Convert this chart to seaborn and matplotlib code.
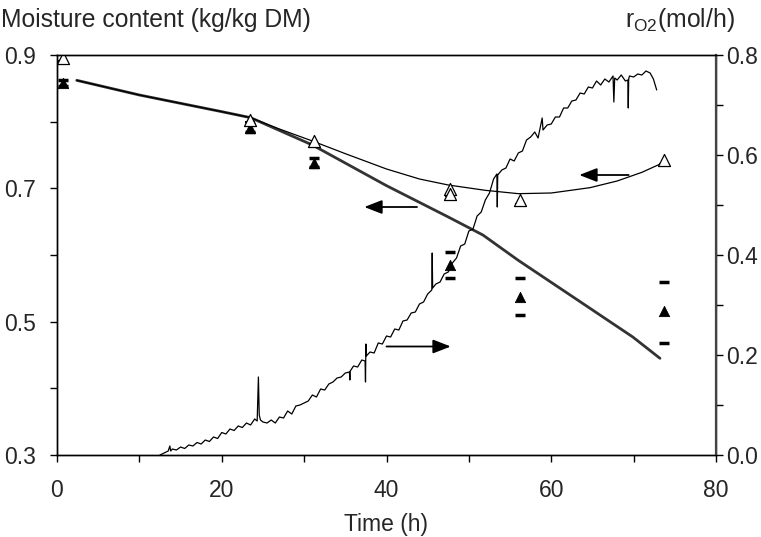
import numpy as np
import pandas as pd
import matplotlib
matplotlib.use("Agg")
import matplotlib.pyplot as plt
import seaborn as sns

# ---- data ----
# measured moisture (filled triangles) with error bar ends
meas_time = [0.7, 23.4, 31.2, 47.7, 56.2, 73.7]
meas_moist = [0.858, 0.790, 0.738, 0.585, 0.537, 0.516]
meas_upper = [0.862, 0.797, 0.745, 0.605, 0.565, 0.560]
meas_lower = [0.854, 0.784, 0.732, 0.565, 0.510, 0.468]

# second measured set (open triangles)
open_time = [0.7, 23.4, 31.2, 47.7, 47.7, 56.2, 73.7]
open_moist = [0.895, 0.803, 0.771, 0.699, 0.692, 0.683, 0.742]
open_lower = [0.891, 0.799, 0.767, 0.688, 0.688, 0.677, 0.737]

# model 1 (thick line)
m1_time = [2.4, 10.0, 20.0, 23.5, 31.0, 40.0, 47.5, 51.7, 56.0, 63.5, 69.9, 73.2]
m1_moist = [0.862, 0.840, 0.815, 0.806, 0.765, 0.704, 0.657, 0.630, 0.592, 0.530, 0.477, 0.445]

# model 2 (thin line)
m2_time = [2.4, 10.0, 20.0, 23.5, 27.0, 31.0, 35.0, 40.0, 44.0, 47.5, 52.0, 56.0, 60.0, 64.7, 68.0, 71.0, 73.5]
m2_moist = [0.862, 0.840, 0.815, 0.806, 0.789, 0.771, 0.752, 0.729, 0.714, 0.705, 0.697, 0.692, 0.693, 0.701, 0.711, 0.724, 0.738]

# oxygen uptake rate (noisy line, right axis)
r_time = [12.5, 13.0, 13.5, 13.7, 13.8, 14.0, 14.5, 15.0, 15.5, 16.0, 16.5, 17.0, 17.5, 18.0, 18.5,
          19.0, 19.5, 20.0, 20.5, 21.0, 21.5, 22.0, 22.5, 23.0, 23.5, 24.0, 24.3, 24.45, 24.55, 24.7,
          25.0, 25.5, 26.0, 26.5, 27.0, 27.5, 28.0, 28.5, 29.0, 29.5, 30.0, 30.5, 31.0, 31.5, 32.0,
          32.5, 33.0, 33.5, 34.0, 34.5, 35.0, 35.5, 35.55, 35.6, 36.0, 36.5, 37.0, 37.4, 37.45, 37.5,
          37.55, 38.0, 38.5, 39.0, 39.5, 40.0, 40.5, 41.0, 41.5, 42.0, 42.5, 43.0, 43.5, 44.0, 44.5,
          45.0, 45.5, 45.55, 45.6, 46.0, 46.5, 47.0, 47.5, 48.0, 48.5, 49.0, 49.5, 50.0, 50.5, 51.0,
          51.5, 52.0, 52.5, 53.0, 53.4, 53.45, 53.5, 54.0, 54.5, 55.0, 55.5, 56.0, 56.5, 57.0, 57.5,
          58.0, 58.4, 58.9, 59.0, 59.5, 60.0, 60.5, 61.0, 61.5, 62.0, 62.5, 63.0, 63.5, 64.0, 64.5,
          65.0, 65.5, 66.0, 66.5, 67.0, 67.5, 67.6, 67.7, 68.0, 68.5, 69.0, 69.3, 69.35, 69.4, 69.5,
          70.0, 70.5, 71.0, 71.5, 72.0, 72.4, 72.8]
r_o2 = [0.000, 0.004, 0.008, 0.018, 0.008, 0.012, 0.010, 0.016, 0.013, 0.020, 0.018, 0.025, 0.022, 0.030, 0.027,
        0.036, 0.033, 0.045, 0.042, 0.052, 0.049, 0.058, 0.055, 0.064, 0.060, 0.072, 0.068, 0.156, 0.080, 0.070,
        0.066, 0.064, 0.070, 0.064, 0.076, 0.074, 0.088, 0.082, 0.098, 0.100, 0.104, 0.108, 0.120, 0.116, 0.132,
        0.130, 0.142, 0.146, 0.154, 0.156, 0.164, 0.166, 0.150, 0.168, 0.178, 0.176, 0.190, 0.188, 0.146, 0.222,
        0.198, 0.206, 0.204, 0.224, 0.222, 0.238, 0.236, 0.252, 0.250, 0.268, 0.270, 0.284, 0.286, 0.302, 0.306,
        0.322, 0.330, 0.404, 0.334, 0.342, 0.346, 0.362, 0.366, 0.384, 0.394, 0.418, 0.422, 0.448, 0.452, 0.478,
        0.486, 0.510, 0.524, 0.552, 0.562, 0.496, 0.560, 0.570, 0.574, 0.592, 0.588, 0.604, 0.608, 0.630, 0.636,
        0.646, 0.634, 0.674, 0.650, 0.660, 0.662, 0.676, 0.676, 0.694, 0.694, 0.708, 0.710, 0.724, 0.722, 0.736,
        0.734, 0.748, 0.740, 0.752, 0.746, 0.758, 0.706, 0.754, 0.750, 0.760, 0.748, 0.750, 0.694, 0.752, 0.758,
        0.756, 0.762, 0.760, 0.768, 0.764, 0.752, 0.730]

x_ticks = [0, 20, 40, 60, 80]
y1_ticks = [0.3, 0.5, 0.7, 0.9]
y2_ticks = [0.0, 0.2, 0.4, 0.6, 0.8]

# ---- plot ----
sns.set_theme(style="ticks")
plt.rcParams['font.family'] = ['Liberation Sans', 'DejaVu Sans']
plt.rcParams['mathtext.fontset'] = 'custom'
plt.rcParams['mathtext.rm'] = 'Liberation Sans'

FS = 16.5
FS_HEAD = 17.8

fig = plt.figure(figsize=(7.61, 5.37), dpi=100)
ax = fig.add_axes([57 / 761, 82 / 537, 659 / 761, 400 / 537])
ax2 = ax.twinx()

df_m1 = pd.DataFrame({"t": m1_time, "m": m1_moist})
df_m2 = pd.DataFrame({"t": m2_time, "m": m2_moist})
df_r = pd.DataFrame({"t": r_time, "r": r_o2})

sns.lineplot(data=df_m1, x="t", y="m", ax=ax, color="#333333", linewidth=2.0, sort=False)
sns.lineplot(data=df_m2, x="t", y="m", ax=ax, color="black", linewidth=0.9, sort=False)
sns.lineplot(data=df_r, x="t", y="r", ax=ax2, color="black", linewidth=0.9, sort=False, estimator=None)

# error-bar ends as dashes
ax.scatter(meas_time + meas_time, meas_upper + meas_lower, marker="_", s=60, color="black", linewidths=2.5, zorder=5)
ax.scatter(open_time, open_lower, marker="_", s=50, color="black", linewidths=1.5, zorder=5)
sns.scatterplot(x=meas_time, y=meas_moist, ax=ax, marker="^", s=55, color="black", edgecolor="black", zorder=6)
sns.scatterplot(x=open_time, y=open_moist, ax=ax, marker="^", s=75, color="white", edgecolor="black", linewidth=0.9, zorder=7)

# arrows
arrow_kw = dict(arrowstyle="-|>,head_length=0.9,head_width=0.35", color="black", lw=1.3, shrinkA=0, shrinkB=0)
ax.annotate("", xy=(63.4, 0.720), xytext=(69.4, 0.720), arrowprops=arrow_kw)
ax.annotate("", xy=(37.3, 0.672), xytext=(43.7, 0.672), arrowprops=arrow_kw)
ax2.annotate("", xy=(47.8, 0.217), xytext=(40.0, 0.217), arrowprops=arrow_kw)

ax.set_xlim(0, 80)
ax.set_ylim(0.3, 0.9)
ax2.set_ylim(0.0, 0.8)
ax.set_xticks(x_ticks)
ax.set_xticks([10, 30, 50, 70], minor=True)
ax.set_yticks(y1_ticks)
ax.set_yticklabels([f"{v:.1f}" for v in y1_ticks])
ax.set_yticks([0.4, 0.6, 0.8], minor=True)
ax2.set_yticks(y2_ticks)
ax2.set_yticklabels([f"{v:.1f}" for v in y2_ticks])
ax2.set_yticks([0.1, 0.3, 0.5, 0.7], minor=True)

for a in (ax, ax2):
    a.tick_params(which="both", direction="out", length=5, width=1, color="black", labelsize=FS)
    for s in a.spines.values():
        s.set_visible(True)
        s.set_color("black")
        s.set_linewidth(1.0)
ax.tick_params(axis="x", pad=12)
ax.tick_params(axis="y", pad=10)
ax2.tick_params(axis="y", pad=2)
ax2.spines["right"].set_color("#444444")
ax2.spines["right"].set_linewidth(1.6)

ax.set_xlabel("Time (h)", fontsize=FS, labelpad=8)
ax.set_ylabel("")
ax2.set_ylabel("")
fig.text(1 / 761, 1 - 20 / 537, "Moisture content (kg/kg DM)", fontsize=FS_HEAD, ha="left", va="center")
fig.text(735 / 761, 1 - 20 / 537, r"r$_{\mathregular{O2}}$(mol/h)", fontsize=FS_HEAD, ha="right", va="center")

fig.savefig("out.png", dpi=100)
